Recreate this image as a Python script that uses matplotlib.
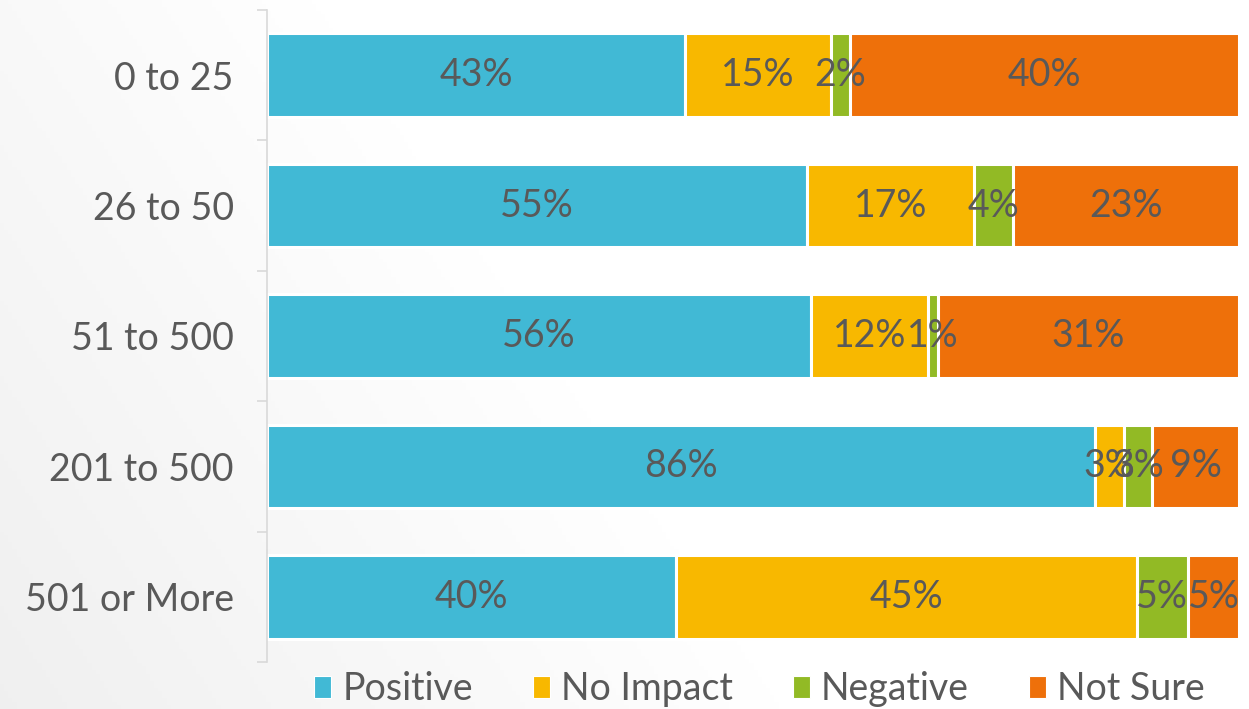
import numpy as np
import matplotlib.pyplot as plt
from matplotlib.patches import Patch

plt.rcParams['font.family'] = ['Lato', 'DejaVu Sans']

CATEGORIES = ['0 to 25', '26 to 50', '51 to 500', '201 to 500', '501 or More']
SERIES = ['Positive', 'No Impact', 'Negative', 'Not Sure']
POSITIVE = [43, 55, 56, 86, 40]
NO_IMPACT = [15, 17, 12, 3, 45]
NEGATIVE = [2, 4, 1, 3, 5]
NOT_SURE = [40, 23, 31, 9, 5]

COLORS = ['#41B9D5', '#F8B800', '#92BA25', '#EE700A']
TEXT = '#595959'
GRID = '#D9D9D9'


def main():
    fig = plt.figure(figsize=(12.49, 7.09), dpi=100)

    # soft gray-to-white background
    bg = fig.add_axes([0, 0, 1, 1], zorder=-10)
    xx, yy = np.meshgrid(np.linspace(0, 1, 300), np.linspace(0, 1, 200))
    g = np.clip(1 - 0.06 * np.clip(1 - (xx * 1.6 + (1 - yy) * 0.6), 0, 1), 0, 1)
    bg.imshow(np.dstack([g, g, g]), aspect='auto', extent=[0, 1, 0, 1])
    bg.axis('off')

    ax = fig.add_axes([0.2138, 0.0663, 0.7782, 0.9196])
    ax.patch.set_alpha(0)

    vals = np.array([POSITIVE, NO_IMPACT, NEGATIVE, NOT_SURE], dtype=float)
    totals = vals.sum(axis=0)
    frac = vals / totals
    y = np.arange(len(CATEGORIES))
    left = np.zeros(len(CATEGORIES))
    for i, name in enumerate(SERIES):
        ax.barh(y, frac[i], left=left, height=0.64, color=COLORS[i],
                edgecolor='white', linewidth=2.2, label=name)
        for j in range(len(CATEGORIES)):
            ax.text(left[j] + frac[i][j] / 2, y[j], '%d%%' % vals[i][j],
                    ha='center', va='center', fontsize=27, color=TEXT)
        left += frac[i]

    ax.set_xlim(0, 1)
    ax.set_ylim(len(CATEGORIES) - 0.5, -0.5)
    ax.set_xticks([])
    ax.set_yticks(y)
    ax.set_yticklabels(CATEGORIES, fontsize=27, color=TEXT)
    ax.set_yticks(np.arange(-0.5, len(CATEGORIES)), minor=True)
    ax.tick_params(axis='y', which='major', length=0, pad=24)
    ax.tick_params(axis='y', which='minor', length=7, width=1.2, color=GRID)
    for s in ['top', 'right', 'bottom']:
        ax.spines[s].set_visible(False)
    ax.spines['left'].set_color(GRID)
    ax.spines['left'].set_linewidth(1.2)

    handles = [Patch(facecolor=c, edgecolor='white', linewidth=0.8) for c in COLORS]
    fig.legend(handles, SERIES, loc='center', bbox_to_anchor=(0.608, 0.028),
               ncol=4, frameon=False, fontsize=27, labelcolor=TEXT,
               handlelength=0.45, handleheight=0.55, handletextpad=0.3,
               columnspacing=1.6)

    fig.savefig('out.png', dpi=100)


if __name__ == '__main__':
    main()
